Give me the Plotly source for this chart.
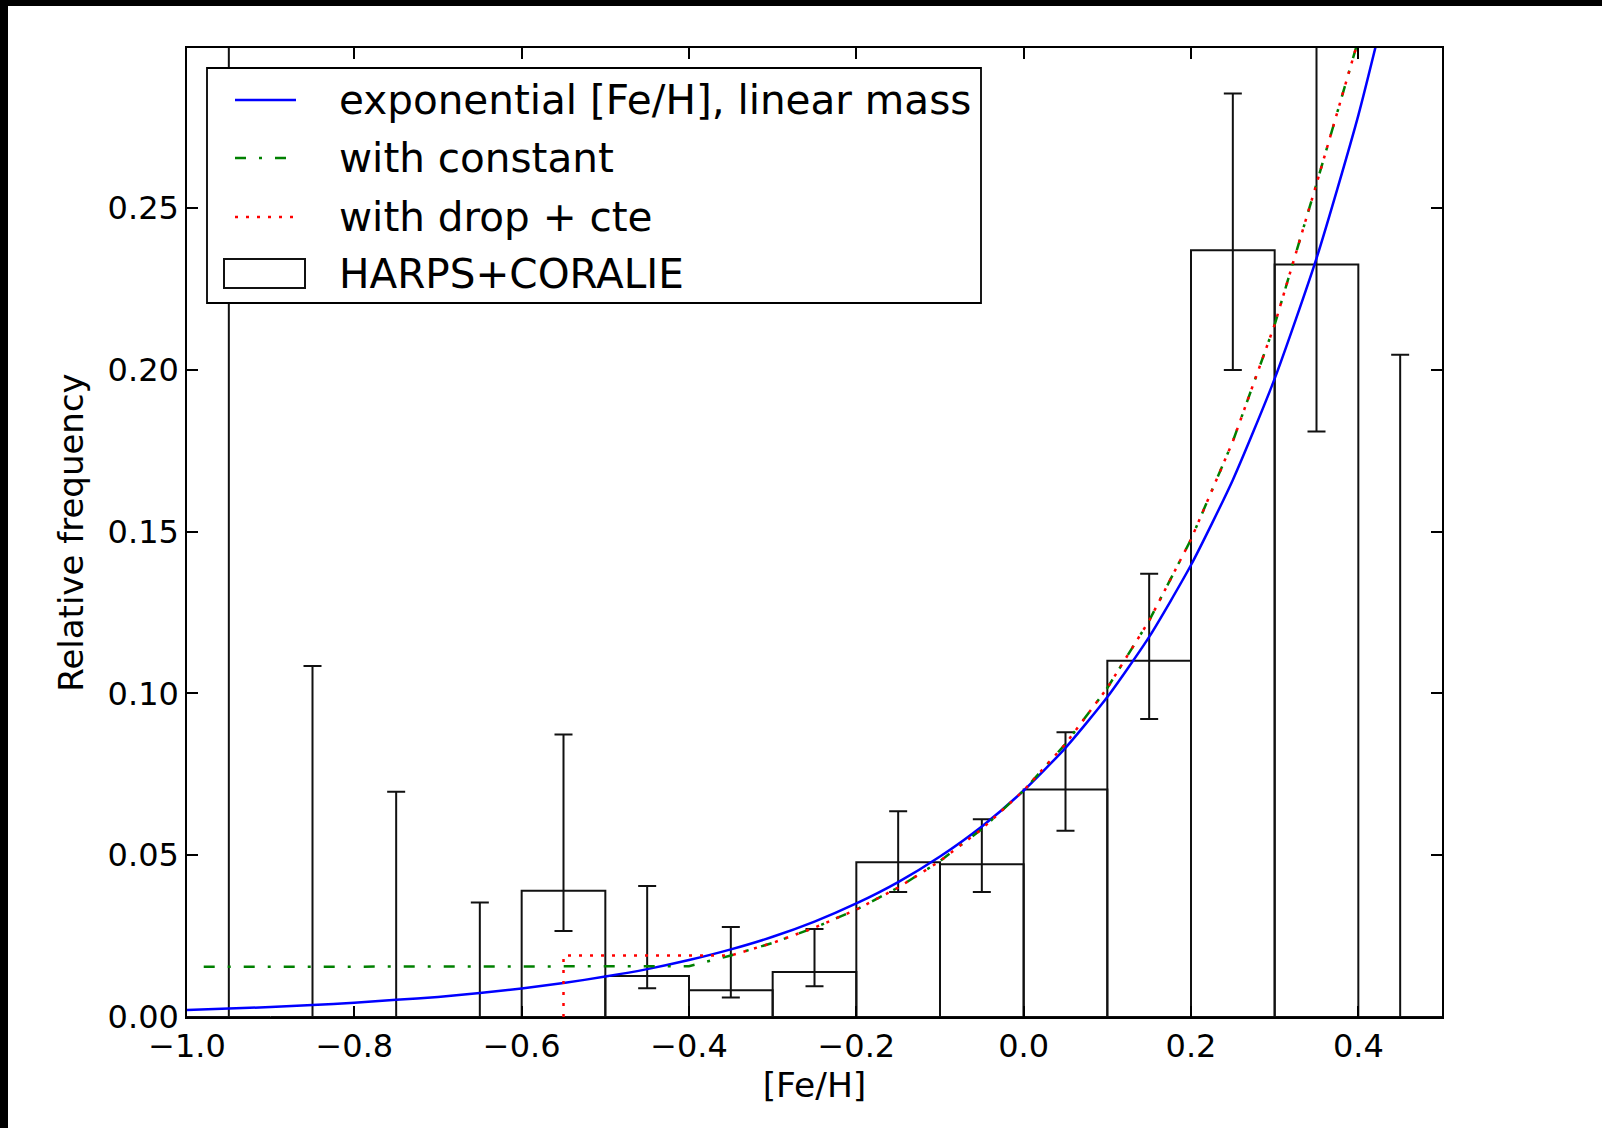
import plotly.graph_objects as go

# ---------------- data ----------------
bin_centers = [-0.95, -0.85, -0.75, -0.65, -0.55, -0.45, -0.35, -0.25,
               -0.15, -0.05, 0.05, 0.15, 0.25, 0.35, 0.45]
bin_heights = [0.0, 0.0, 0.0, 0.0, 0.039, 0.0127, 0.0083, 0.0139,
               0.0478, 0.0472, 0.0703, 0.1101, 0.237, 0.2326, 0.0]
err_low = [0.0, 0.0, 0.0, 0.0, 0.0266, 0.0089, 0.0060, 0.0095,
           0.0386, 0.0386, 0.0576, 0.0921, 0.200, 0.181, 0.0]
err_high = [0.32, 0.1085, 0.0696, 0.0354, 0.0873, 0.0405, 0.0278, 0.0272,
            0.0636, 0.0611, 0.0880, 0.1370, 0.2854, 0.32, 0.2047]

exp_x = [-1.0, -0.95, -0.9, -0.85, -0.8, -0.75, -0.7, -0.65, -0.6, -0.55,
         -0.5, -0.45, -0.4, -0.35, -0.3, -0.25, -0.2, -0.15, -0.1, -0.05,
         0.0, 0.05, 0.1, 0.15, 0.2, 0.25, 0.3, 0.35, 0.4, 0.45]
exp_y = [0.0022, 0.0026, 0.0031, 0.0037, 0.0044, 0.0053, 0.0062, 0.0074,
         0.0088, 0.0105, 0.0125, 0.0148, 0.0176, 0.0209, 0.0248, 0.0295,
         0.0351, 0.0417, 0.0496, 0.0589, 0.0700, 0.0832, 0.0989, 0.1175,
         0.1397, 0.1660, 0.1973, 0.2345, 0.2787, 0.3312]

const_x = [-0.98, -0.40, -0.35, -0.30, -0.25, -0.20, -0.15, -0.10, -0.05,
           0.0, 0.05, 0.10, 0.15, 0.20, 0.25, 0.30, 0.35, 0.40]
const_y = [0.0155, 0.0157, 0.0190, 0.0229, 0.0276, 0.0332, 0.0400, 0.0482,
           0.0581, 0.0700, 0.0844, 0.1017, 0.1225, 0.1476, 0.1779, 0.2140,
           0.2575, 0.3020]

drop_x = [-0.55, -0.55, -0.35, -0.30, -0.25, -0.20, -0.15, -0.10, -0.05,
          0.0, 0.05, 0.10, 0.15, 0.20, 0.25, 0.30, 0.35, 0.40]
drop_y = [0.0, 0.0190, 0.0190, 0.0229, 0.0276, 0.0332, 0.0400, 0.0482,
          0.0581, 0.0700, 0.0844, 0.1017, 0.1225, 0.1476, 0.1779, 0.2140,
          0.2575, 0.3020]

series_names = ["exponential [Fe/H], linear mass", "with constant",
                "with drop + cte", "HARPS+CORALIE"]

x_tickvals = [-1.0, -0.8, -0.6, -0.4, -0.2, 0.0, 0.2, 0.4]
x_ticktext = ["\u22121.0", "\u22120.8", "\u22120.6", "\u22120.4", "\u22120.2", "0.0", "0.2", "0.4"]
y_tickvals = [0.0, 0.05, 0.10, 0.15, 0.20, 0.25]
y_ticktext = ["0.00", "0.05", "0.10", "0.15", "0.20", "0.25"]

# ---------------- layout geometry ----------------
W, H = 1602, 1128
ML, MR, MT, MB = 187, 160, 48, 111
PW, PH = W - ML - MR, H - MT - MB


def px(xpix):
    return (xpix - ML) / PW


def py(ypix):
    return (H - MB - ypix) / PH


FONT = "DejaVu Sans"
BLUE, GREEN, RED = "#0000ff", "#008000", "#ff0000"
GREEN_DASH = "11px,13px,3px,13px"
RED_DASH = "3px,8px"

fig = go.Figure()

fig.add_trace(go.Scatter(
    x=exp_x, y=exp_y, mode="lines", name=series_names[0],
    line=dict(color=BLUE, width=2.5, shape="spline", smoothing=0.6)))
fig.add_trace(go.Scatter(
    x=const_x, y=const_y, mode="lines", name=series_names[1],
    line=dict(color=GREEN, width=2.5, dash=GREEN_DASH)))
fig.add_trace(go.Scatter(
    x=drop_x, y=drop_y, mode="lines", name=series_names[2],
    line=dict(color=RED, width=2.5, dash=RED_DASH)))

plus = [h - v for h, v in zip(err_high, bin_heights)]
minus = [v - l for v, l in zip(bin_heights, err_low)]
fig.add_trace(go.Bar(
    x=bin_centers, y=bin_heights, width=0.1, name=series_names[3],
    marker=dict(color="rgba(255,255,255,0)", line=dict(color="#111111", width=2)),
    error_y=dict(type="data", symmetric=False, array=plus, arrayminus=minus,
                 color="#111111", thickness=2, width=9)))

# ---------------- legend (drawn in the upper-left of the axes) ----------------
row_y = [100, 158, 217, 274]
shapes = [
    # black frame bands of the original picture
    dict(type="rect", xref="paper", yref="paper", x0=-0.2, x1=1.2,
         y0=py(6), y1=py(-40), fillcolor="black", line=dict(width=0), layer="below"),
    dict(type="rect", xref="paper", yref="paper", x0=px(-40), x1=px(8),
         y0=py(H + 40), y1=py(-40), fillcolor="black", line=dict(width=0), layer="below"),
    # legend frame
    dict(type="rect", xref="paper", yref="paper", x0=px(207), x1=px(981),
         y0=py(303), y1=py(68), fillcolor="white", line=dict(color="black", width=1.8),
         layer="above"),
    dict(type="line", xref="paper", yref="paper", x0=px(235), x1=px(296),
         y0=py(row_y[0]), y1=py(row_y[0]), line=dict(color=BLUE, width=2.5), layer="above"),
    dict(type="line", xref="paper", yref="paper", x0=px(235), x1=px(292),
         y0=py(row_y[1]), y1=py(row_y[1]), line=dict(color=GREEN, width=2.5, dash=GREEN_DASH),
         layer="above"),
    dict(type="line", xref="paper", yref="paper", x0=px(235), x1=px(296),
         y0=py(row_y[2]), y1=py(row_y[2]), line=dict(color=RED, width=2.5, dash=RED_DASH),
         layer="above"),
    dict(type="rect", xref="paper", yref="paper", x0=px(224), x1=px(305),
         y0=py(288), y1=py(259), fillcolor="white", line=dict(color="#111111", width=2),
         layer="above"),
]
annotations = [
    dict(text=name, xref="paper", yref="paper", x=px(337), y=py(ry),
         xanchor="left", yanchor="middle", showarrow=False,
         font=dict(family=FONT, size=40.5, color="black"))
    for name, ry in zip(series_names, row_y)
]

fig.update_layout(
    width=W, height=H,
    margin=dict(l=ML, r=MR, t=MT, b=MB),
    paper_bgcolor="white", plot_bgcolor="white",
    font=dict(family=FONT, color="black", size=32),
    showlegend=False,
    xaxis=dict(
        range=[-1.0, 0.5], tickvals=x_tickvals, ticktext=x_ticktext,
        ticks="inside", ticklen=11, tickwidth=1.5, tickcolor="black",
        showline=True, linecolor="black", linewidth=1.5, mirror="allticks",
        showgrid=False, zeroline=False,
        title=dict(text="[Fe/H]", font=dict(size=34.5), standoff=2)),
    yaxis=dict(
        range=[0.0, 0.2995], tickvals=y_tickvals, ticktext=y_ticktext,
        ticks="inside", ticklen=11, tickwidth=1.5, tickcolor="black",
        showline=True, linecolor="black", linewidth=1.5, mirror="allticks",
        showgrid=False, zeroline=False,
        title=dict(text="Relative frequency", font=dict(size=34), standoff=14)),
    shapes=shapes,
    annotations=annotations,
)

fig.write_html("out.html", config={"displayModeBar": False},
               post_script="document.body.style.margin='0px';document.body.style.overflow='hidden';")
